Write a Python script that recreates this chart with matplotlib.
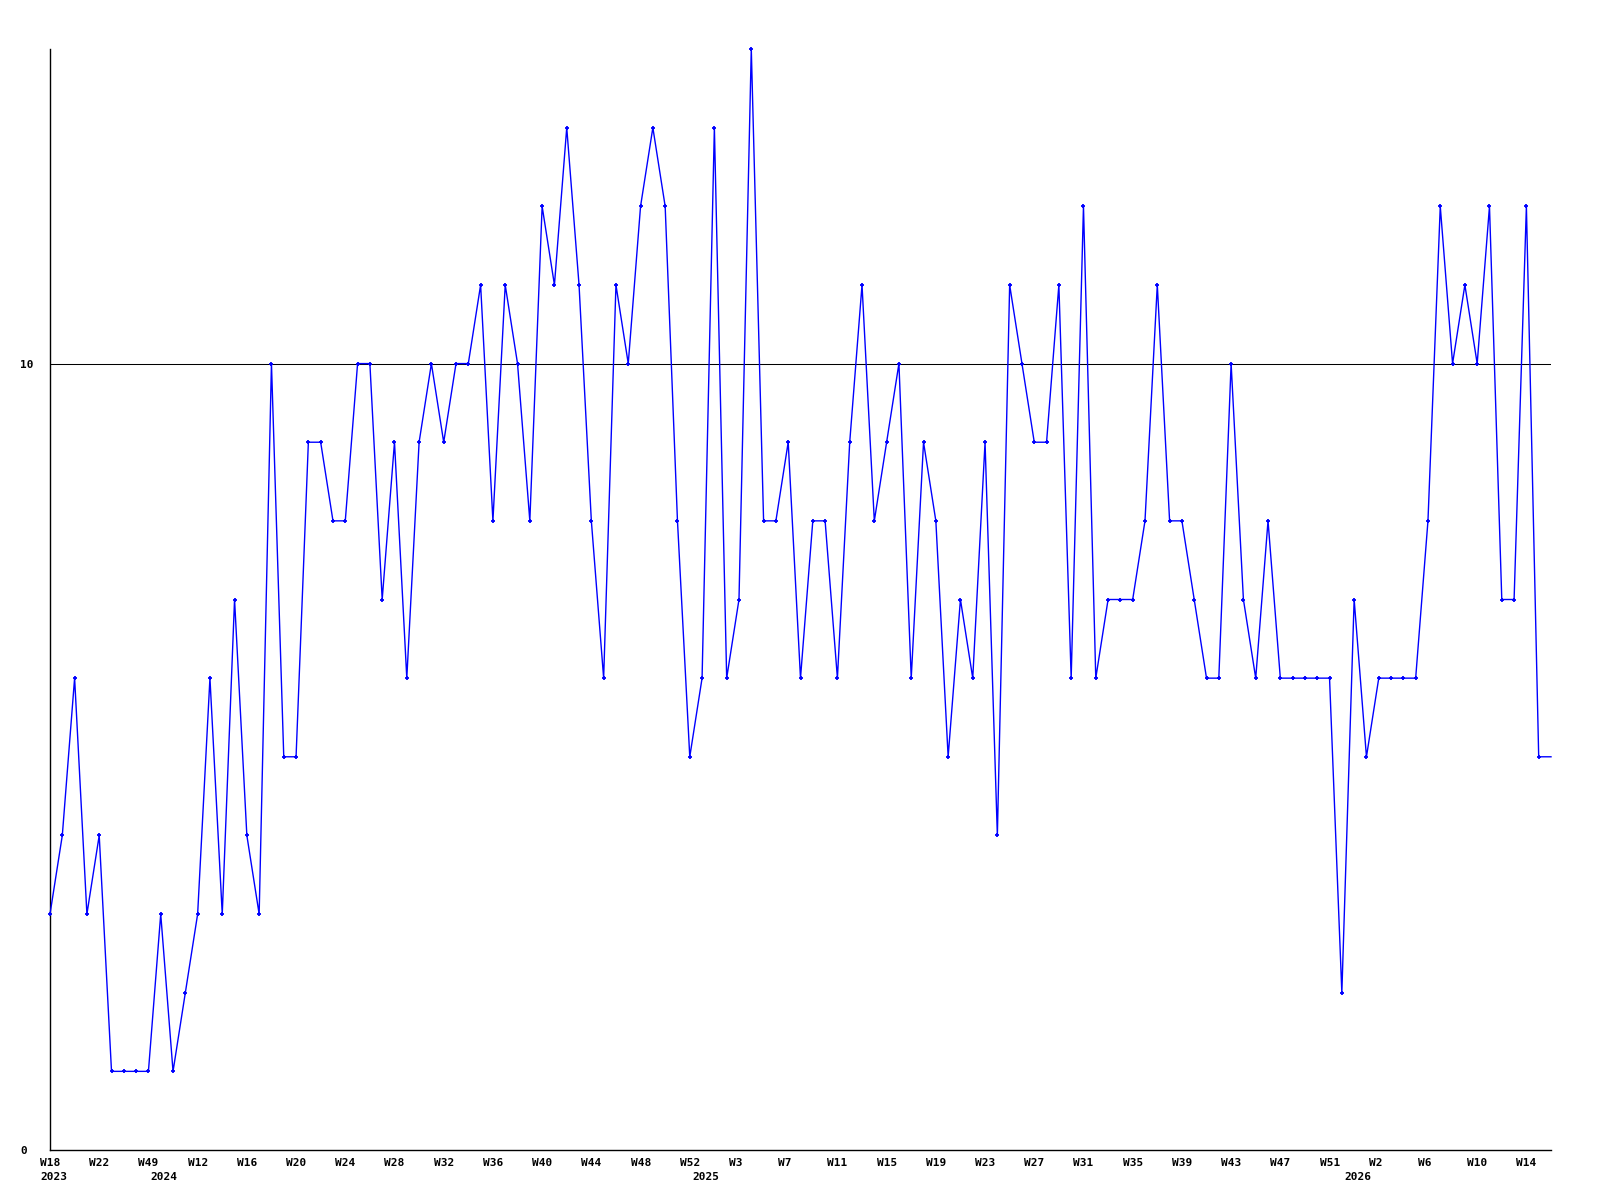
import matplotlib
matplotlib.use("Agg")
import matplotlib.pyplot as plt
from matplotlib.transforms import ScaledTranslation

# ---- data -------------------------------------------------------------
weeks = ([18, 19, 20, 21, 22, 46, 47, 48, 49]
         + [9, 10, 11] + list(range(12, 53))
         + list(range(0, 53))
         + list(range(0, 17)))
years = [2023] * 9 + [2024] * 44 + [2025] * 53 + [2026] * 17

values = [3, 4, 6, 3, 4, 1, 1, 1, 1, 3,
          1, 2, 3, 6, 3, 7, 4, 3, 10, 5,
          5, 9, 9, 8, 8, 10, 10, 7, 9, 6,
          9, 10, 9, 10, 10, 11, 8, 11, 10, 8,
          12, 11, 13, 11, 8, 6, 11, 10, 12, 13,
          12, 8, 5, 6, 13, 6, 7, 14, 8, 8,
          9, 6, 8, 8, 6, 9, 11, 8, 9, 10,
          6, 9, 8, 5, 7, 6, 9, 4, 11, 10,
          9, 9, 11, 6, 12, 6, 7, 7, 7, 8,
          11, 8, 8, 7, 6, 6, 10, 7, 6, 8,
          6, 6, 6, 6, 6, 2, 7, 5, 6, 6,
          6, 6, 8, 12, 10, 11, 10, 12, 7, 7,
          12, 5, 5]

y_ticks = [0, 10]
reference_level = 10

# ---- figure -----------------------------------------------------------
plt.rcParams["font.family"] = ["DejaVu Sans Mono"]
plt.rcParams["font.weight"] = "bold"
plt.rcParams["font.size"] = 8

fig = plt.figure(figsize=(16, 12), dpi=100)
ax = fig.add_axes([50 / 1600, 1 - 1150 / 1200, 1501 / 1600, 1101 / 1200])

x = list(range(len(values)))
ax.plot(x, values, color="#0000ff", lw=1.0, marker="+", ms=3.2, mew=1.3,
        markevery=slice(0, len(values) - 1), clip_on=False, zorder=3)

ax.set_xlim(0, len(values) - 1)
ax.set_ylim(0, 14)

for s in ("top", "right"):
    ax.spines[s].set_visible(False)
for s in ("left", "bottom"):
    ax.spines[s].set_linewidth(1.0)
    ax.spines[s].set_color("black")

# y axis
ax.set_yticks(y_ticks)
ax.set_yticklabels([str(v) for v in y_ticks])
ax.tick_params(axis="y", length=0, pad=21.6)
for lab in ax.get_yticklabels():
    lab.set_horizontalalignment("left")
ax.axhline(reference_level, color="black", lw=0.75, zorder=1)

# x axis: week labels every 4 points, year at first point of each year
major_pos = list(range(0, len(values), 4))
ax.set_xticks(major_pos)
ax.set_xticklabels([f"W{weeks[i]}" for i in major_pos])
year_pos = [i for i in range(len(years)) if i == 0 or years[i] != years[i - 1]]
ax.set_xticks(year_pos, minor=True)
ax.set_xticklabels([str(years[i]) for i in year_pos], minor=True)
ax.xaxis.remove_overlapping_locs = False
ax.tick_params(axis="x", which="major", length=0, pad=6.0)
ax.tick_params(axis="x", which="minor", length=0, pad=16.0)

off = ScaledTranslation(-10 / 100, 0, fig.dpi_scale_trans)
for lab in ax.get_xticklabels() + ax.get_xticklabels(minor=True):
    lab.set_horizontalalignment("left")
    lab.set_transform(lab.get_transform() + off)

fig.savefig("out.png", dpi=100)
